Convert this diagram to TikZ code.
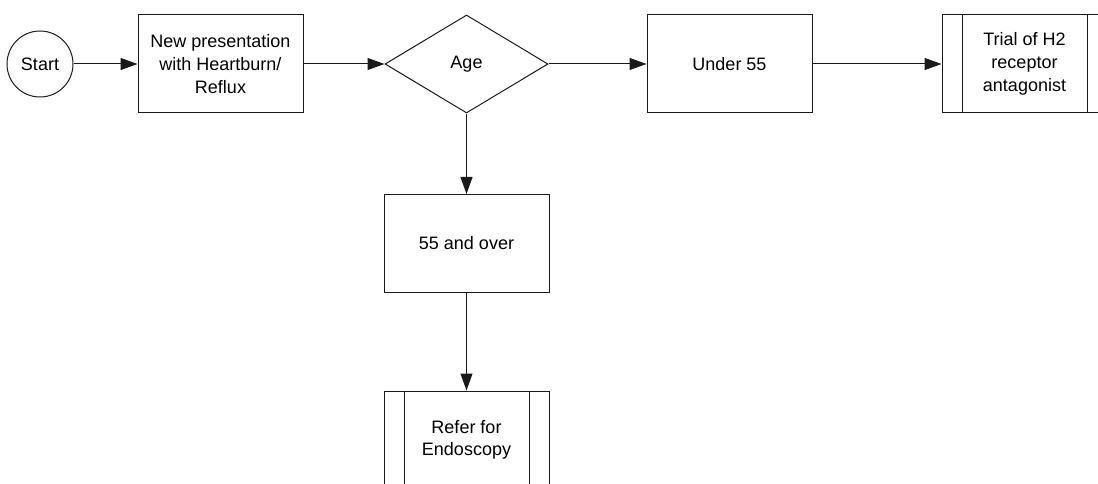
\documentclass[tikz,border=0pt]{standalone}
\usepackage{fontspec}
\setmainfont{Liberation Sans}
\usetikzlibrary{shapes.geometric,arrows.meta}
\definecolor{linec}{HTML}{1A1A1A}
\begin{document}
\begin{tikzpicture}[x=1pt,y=-1pt,
  every node/.style={font=\fontsize{18}{22.7}\selectfont, align=center, text=black},
  proc/.style={draw=linec, line width=1pt, minimum width=165pt, minimum height=98pt, inner sep=0pt},
  subproc/.style={proc, path picture={
      \draw[linec, line width=1pt]
        ([xshift=20pt]path picture bounding box.north west) -- ([xshift=20pt]path picture bounding box.south west)
        ([xshift=-20pt]path picture bounding box.north east) -- ([xshift=-20pt]path picture bounding box.south east);}},
  decision/.style={diamond, draw=linec, line width=1pt, minimum width=163pt, minimum height=98pt, inner sep=0pt, aspect=1.66},
  terminal/.style={circle, draw=linec, line width=1pt, minimum size=66pt, inner sep=0pt},
  flow/.style={draw=linec, line width=1pt, -{Triangle[length=17pt,width=12pt]}}
]
\useasboundingbox (0,0) rectangle (1098,484);
\node[terminal] (start) at (40,64) {Start};
\node[proc] (new) at (220.5,64) {New presentation\\with Heartburn/\\Reflux};
\node[decision] (age) at (466.5,64) {Age};
\node[proc] (under) at (729.5,64) {Under 55};
\node[subproc] (trial) at (1024.5,64) {Trial of H2\\receptor\\antagonist};
\node[proc] (over) at (466.5,243.5) {55 and over};
\node[subproc] (refer) at (466.5,440) {Refer for\\Endoscopy};
\draw[flow] (start) -- (new);
\draw[flow] (new) -- (age);
\draw[flow] (age) -- (under);
\draw[flow] (under) -- (trial);
\draw[flow] (age) -- (over);
\draw[flow] (over) -- (refer);
\end{tikzpicture}
\end{document}
